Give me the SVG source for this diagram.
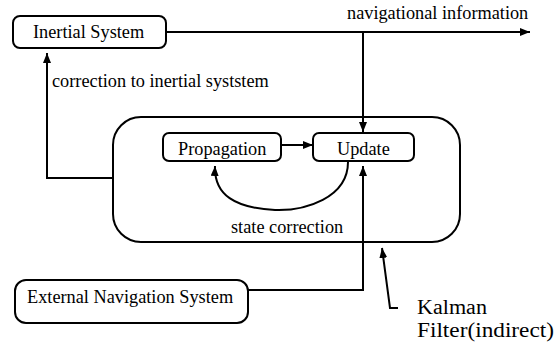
<svg xmlns="http://www.w3.org/2000/svg" width="559" height="345" viewBox="0 0 559 345">
  <style>
    .box { fill: #ffffff; stroke: #000000; stroke-width: 2; }
    .frame { fill: none; stroke: #000000; stroke-width: 2; }
    .lbl { font-family: "Liberation Serif", "Times New Roman", serif; font-size: 18.3px; fill: #000000; }
    .big { font-family: "Liberation Serif", "Times New Roman", serif; font-size: 20.5px; fill: #000000; }
    .wire { fill: none; stroke: #000000; stroke-width: 2; }
  </style>
  <defs>
    <marker id="arrow" viewBox="0 0 10 8" refX="10" refY="4" markerWidth="10" markerHeight="8" markerUnits="userSpaceOnUse" orient="auto">
      <path d="M0,0 L10,4 L0,8 Z" fill="#000000"/>
    </marker>
  </defs>
  <rect width="559" height="345" fill="#ffffff"/>

  <g id="connectors">
    <!-- inertial output to navigation information -->
    <line class="wire" x1="166" y1="32" x2="530" y2="32" marker-end="url(#arrow)"/>
    <!-- tap down to the update step -->
    <line class="wire" x1="363" y1="32" x2="363" y2="132" marker-end="url(#arrow)"/>
    <!-- correction fed back to the inertial system -->
    <polyline class="wire" points="113,178 47,178 47,53" marker-end="url(#arrow)"/>
    <!-- propagation to update -->
    <line class="wire" x1="281" y1="145" x2="313" y2="145" marker-end="url(#arrow)"/>
    <!-- state correction loop -->
    <path class="wire" d="M348,162 C348,198 305,211 275,210 C235,208 214,195 215,166" marker-end="url(#arrow)"/>
    <!-- external navigation measurement into update -->
    <polyline class="wire" points="248,290 363,290 363,166" marker-end="url(#arrow)"/>
    <!-- pointer to the Kalman filter block -->
    <polyline class="wire" points="398,308 390,308 382,248" marker-end="url(#arrow)"/>
  </g>

  <g id="kalman-filter">
    <rect class="frame" x="113" y="117" width="347" height="125" rx="28" ry="28"/>
    <text class="lbl" x="231" y="233">state correction</text>
  </g>

  <g id="inertial-system">
    <rect class="box" x="13" y="16" width="153" height="32" rx="7" ry="7"/>
    <text class="lbl" x="33" y="38">Inertial System</text>
  </g>

  <g id="nav-info-label">
    <text class="lbl" x="347" y="19">navigational information</text>
  </g>

  <g id="correction-label">
    <text class="lbl" x="52" y="87">correction to inertial syststem</text>
  </g>

  <g id="propagation">
    <rect class="box" x="163" y="133" width="118" height="28" rx="6" ry="6"/>
    <text class="lbl" x="178" y="155">Propagation</text>
  </g>

  <g id="update">
    <rect class="box" x="313" y="133" width="101" height="28" rx="6" ry="6"/>
    <text class="lbl" x="337" y="155">Update</text>
  </g>

  <g id="external-navigation">
    <rect class="box" x="15" y="280" width="233" height="43" rx="11" ry="11"/>
    <text class="lbl" x="27" y="303">External Navigation System</text>
  </g>

  <g id="kalman-label">
    <text class="big" x="417" y="314" textLength="70" lengthAdjust="spacingAndGlyphs">Kalman</text>
    <text class="big" x="417" y="337" textLength="137" lengthAdjust="spacingAndGlyphs">Filter(indirect)</text>
  </g>
</svg>
